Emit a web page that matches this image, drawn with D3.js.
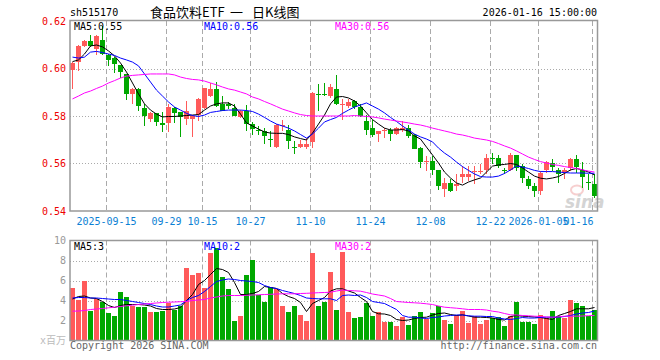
<!DOCTYPE html>
<html>
<head>
<meta charset="utf-8">
<script src="https://cdn.jsdelivr.net/npm/d3@7"></script>
<style>
  body { margin: 0; background: #fff; }
  svg { display: block; }
  text { font-family: "DejaVu Sans Mono", monospace; font-size: 10px; }
</style>
</head>
<body>
<div id="chart"></div>
<script>
const width = 660;
const height = 360;

// trading days shown
const dates = [
  "2025-09-05","2025-09-08","2025-09-09","2025-09-10","2025-09-11","2025-09-12",
  "2025-09-15","2025-09-16","2025-09-17","2025-09-18","2025-09-19",
  "2025-09-22","2025-09-23","2025-09-24","2025-09-25","2025-09-26",
  "2025-09-29","2025-09-30","2025-10-09","2025-10-10",
  "2025-10-13","2025-10-14","2025-10-15","2025-10-16","2025-10-17",
  "2025-10-20","2025-10-21","2025-10-22","2025-10-23","2025-10-24",
  "2025-10-27","2025-10-28","2025-10-29","2025-10-30","2025-10-31",
  "2025-11-03","2025-11-04","2025-11-05","2025-11-06","2025-11-07",
  "2025-11-10","2025-11-11","2025-11-12","2025-11-13","2025-11-14",
  "2025-11-17","2025-11-18","2025-11-19","2025-11-20","2025-11-21",
  "2025-11-24","2025-11-25","2025-11-26","2025-11-27","2025-11-28",
  "2025-12-01","2025-12-02","2025-12-03","2025-12-04","2025-12-05",
  "2025-12-08","2025-12-09","2025-12-10","2025-12-11","2025-12-12",
  "2025-12-15","2025-12-16","2025-12-17","2025-12-18","2025-12-19",
  "2025-12-22","2025-12-23","2025-12-24","2025-12-25","2025-12-26",
  "2025-12-29","2025-12-30","2025-12-31",
  "2026-01-05","2026-01-06","2026-01-07","2026-01-08","2026-01-09",
  "2026-01-12","2026-01-13","2026-01-14","2026-01-15","2026-01-16"
];

const opens = [
  .5993,.6028,.6093,.6114,.6084,.6121,.6056,.6045,.6014,.5975,
  .5891,.5914,.5833,.5787,.5812,.5771,.5770,.5833,.5815,.5787,
  .5787,.5805,.5833,.5886,.5914,.5852,.5850,.5833,.5796,.5822,
  .5766,.5742,.5735,.5703,.5671,.5758,.5741,.5671,.5671,.5671,
  .5691,.5892,.5893,.5886,.5914,.5845,.5842,.5863,.5836,.5781,
  .5750,.5724,.5735,.5742,.5724,.5742,.5749,.5721,.5666,.5607,
  .5612,.5571,.5491,.5519,.5505,.5543,.5543,.5565,.5565,.5571,
  .5624,.5624,.5571,.5571,.5635,.5589,.5533,.5505,.5484,.5571,
  .5603,.5571,.5561,.5579,.5621,.5571,.5522,.5515
];
const highs = [
  .6027,.6098,.6118,.6142,.6140,.6181,.6060,.6048,.6016,.5977,
  .5917,.5916,.5850,.5815,.5814,.5816,.5851,.5836,.5818,.5863,
  .5806,.5875,.5920,.5937,.5944,.5886,.5858,.5851,.5826,.5847,
  .5774,.5760,.5751,.5738,.5765,.5784,.5763,.5696,.5700,.5707,
  .5902,.5933,.5941,.5933,.5972,.5872,.5872,.5866,.5850,.5805,
  .5784,.5738,.5749,.5749,.5752,.5781,.5763,.5724,.5668,.5631,
  .5631,.5574,.5540,.5533,.5554,.5589,.5589,.5589,.5596,.5638,
  .5645,.5635,.5582,.5645,.5636,.5599,.5547,.5519,.5568,.5612,
  .5617,.5582,.5582,.5624,.5635,.5607,.5554,.5554
];
const lows = [
  .5912,.5990,.6090,.6090,.6056,.6055,.6011,.5983,.5958,.5868,
  .5850,.5819,.5760,.5773,.5760,.5732,.5732,.5769,.5710,.5763,
  .5710,.5777,.5830,.5880,.5840,.5820,.5830,.5798,.5790,.5738,
  .5721,.5721,.5682,.5671,.5665,.5735,.5660,.5640,.5665,.5662,
  .5665,.5822,.5886,.5875,.5847,.5784,.5833,.5830,.5794,.5721,
  .5710,.5691,.5707,.5696,.5721,.5732,.5707,.5660,.5579,.5568,
  .5551,.5487,.5459,.5481,.5484,.5519,.5526,.5512,.5554,.5554,
  .5596,.5582,.5554,.5568,.5568,.5519,.5491,.5459,.5467,.5561,
  .5568,.5519,.5533,.5568,.5561,.5498,.5487,.5453
];
const closes = [
  .6025,.6093,.6114,.6093,.6135,.6059,.6035,.6017,.5986,.5891,
  .5914,.5844,.5802,.5812,.5773,.5763,.5836,.5812,.5796,.5822,
  .5802,.5872,.5916,.5914,.5844,.5822,.5841,.5802,.5822,.5766,
  .5745,.5737,.5714,.5698,.5763,.5763,.5696,.5667,.5684,.5684,
  .5895,.5888,.5890,.5922,.5851,.5852,.5860,.5836,.5798,.5742,
  .5721,.5735,.5742,.5724,.5749,.5749,.5714,.5663,.5607,.5612,
  .5571,.5505,.5519,.5484,.5512,.5554,.5554,.5570,.5570,.5624,
  .5620,.5589,.5568,.5635,.5582,.5540,.5505,.5484,.5561,.5607,
  .5585,.5557,.5571,.5621,.5585,.5543,.5519,.5463
];

// volume, millions
const volumes = [
  5.23,4.1,5.93,3.0,4.17,3.83,2.73,2.43,4.9,4.33,
  3.5,3.33,3.33,2.9,2.83,2.95,3.77,3.1,3.5,7.23,
  6.6,6.77,5.23,8.73,9.23,6.33,5.2,2.0,2.43,6.6,
  8.1,4.57,3.83,5.4,5.17,3.5,2.9,3.43,2.6,1.93,
  8.73,3.43,3.9,6.9,3.1,8.9,2.9,2.3,2.4,3.73,
  2.5,2.9,1.9,1.9,1.5,2.4,1.6,2.5,2.9,2.2,
  2.8,3.47,2.1,1.7,2.6,3.0,1.8,2.5,1.7,2.1,
  2.23,2.4,1.5,2.5,3.9,1.9,1.9,1.7,2.6,2.3,
  3.0,2.5,2.3,4.1,3.8,3.5,2.43,3.1
];

// moving averages as drawn on the chart
const ma5 = [
  .6029,.6036,.6061,.6095,.6099,.6091,.6074,.6053,.6023,.5985,
  .5939,.5893,.5851,.5825,.5808,.5796,.5798,.5798,.5800,.5802,
  .5804,.5806,.5825,.5842,.5851,.5855,.5855,.5842,.5808,.5771,
  .5758,.5745,.5733,.5728,.5727,.5727,.5722,.5712,.5705,.5699,
  .5728,.5766,.5804,.5851,.5880,.5882,.5876,.5863,.5842,.5813,
  .5785,.5766,.5749,.5741,.5741,.5743,.5737,.5716,.5703,.5669,
  .5636,.5602,.5564,.5539,.5518,.5509,.5522,.5531,.5539,.5564,
  .5589,.5594,.5596,.5600,.5596,.5581,.5564,.5547,.5538,.5535,
  .5539,.5545,.5558,.5573,.5579,.5573,.5564,.5552
];
const ma10 = [
  .6048,.6044,.6048,.6069,.6072,.6067,.6061,.6055,.6044,.6036,
  .6027,.6011,.5977,.5943,.5909,.5884,.5859,.5838,.5825,.5811,
  .5802,.5798,.5804,.5815,.5819,.5823,.5825,.5825,.5825,.5823,
  .5819,.5808,.5794,.5779,.5766,.5758,.5749,.5737,.5722,.5707,
  .5724,.5749,.5775,.5785,.5794,.5811,.5825,.5838,.5846,.5855,
  .5842,.5829,.5813,.5794,.5777,.5758,.5741,.5724,.5712,.5703,
  .5691,.5665,.5644,.5627,.5606,.5587,.5571,.5556,.5545,.5543,
  .5543,.5547,.5558,.5573,.5589,.5585,.5579,.5571,.5566,.5566,
  .5566,.5564,.5562,.5560,.5560,.5560,.5559,.5559
];
const ma30 = [
  .5872,.5884,.5897,.5905,.5916,.5926,.5939,.5949,.5960,.5968,
  .5971,.5973,.5975,.5977,.5977,.5977,.5977,.5973,.5964,.5958,
  .5954,.5952,.5947,.5939,.5931,.5922,.5914,.5909,.5901,.5893,
  .5880,.5872,.5861,.5851,.5840,.5829,.5821,.5813,.5806,.5802,
  .5800,.5800,.5800,.5800,.5800,.5800,.5800,.5802,.5800,.5798,
  .5796,.5792,.5787,.5783,.5779,.5775,.5771,.5766,.5762,.5756,
  .5749,.5743,.5737,.5731,.5724,.5720,.5714,.5707,.5703,.5699,
  .5693,.5684,.5674,.5665,.5653,.5640,.5627,.5617,.5608,.5602,
  .5596,.5592,.5587,.5583,.5579,.5573,.5568,.5564
];
const volMa5 = [
  4.15,4.4,4.45,4.25,4.2,3.9,3.5,3.3,3.5,3.6,
  3.6,3.6,3.55,3.45,3.2,3.1,3.1,3.15,3.3,4.0,
  4.6,5.6,6.0,6.6,7.2,7.1,6.8,5.8,4.6,4.6,
  4.7,4.9,5.4,5.3,5.2,4.7,4.4,4.2,3.8,2.9,
  3.7,4.0,4.3,4.95,5.17,5.17,4.95,4.75,4.3,3.9,
  2.9,2.67,2.65,2.5,2.1,2.0,2.05,2.2,2.3,2.33,
  2.55,2.7,2.75,2.6,2.5,2.57,2.45,2.33,2.33,2.3,
  2.25,2.1,2.05,2.4,2.5,2.43,2.4,2.35,2.3,2.2,
  2.1,2.5,2.7,2.9,3.17,3.17,3.17,3.3
];
const volMa10 = [
  4.25,4.3,4.3,4.25,4.25,4.2,4.15,4.1,4.1,4.0,
  3.9,3.8,3.7,3.6,3.45,3.35,3.35,3.45,3.55,4.0,
  4.3,4.5,4.9,5.4,5.9,6.05,6.15,6.1,6.0,5.95,
  5.9,5.8,5.5,5.3,5.2,5.0,4.85,4.7,4.5,4.25,
  4.2,4.17,4.17,4.17,4.0,4.5,4.55,4.5,4.55,4.3,
  3.9,3.8,3.7,3.4,3.1,2.5,2.33,2.33,2.25,2.2,
  2.3,2.35,2.45,2.5,2.55,2.55,2.47,2.43,2.43,2.4,
  2.4,2.25,2.15,2.1,2.2,2.3,2.25,2.25,2.3,2.33,
  2.33,2.33,2.4,2.5,2.65,2.75,2.8,2.95
];
const volMa30 = [
  2.93,2.95,3.0,3.1,3.15,3.2,3.27,3.33,3.4,3.47,
  3.53,3.6,3.65,3.7,3.75,3.8,3.83,3.85,3.88,3.9,
  4.0,4.05,4.1,4.25,4.35,4.45,4.5,4.5,4.5,4.52,
  4.55,4.57,4.6,4.62,4.65,4.67,4.67,4.67,4.7,4.72,
  4.75,4.78,4.8,4.83,4.95,5.05,5.0,4.97,4.93,4.8,
  4.65,4.55,4.45,4.2,3.9,3.85,3.8,3.77,3.73,3.67,
  3.6,3.45,3.33,3.28,3.23,3.17,3.1,3.1,3.1,3.05,
  2.93,2.85,2.7,2.57,2.55,2.5,2.47,2.43,2.4,2.35,
  2.33,2.37,2.43,2.43,2.43,2.45,2.48,2.5
];

const tickDates = ["2025-09-15","2025-09-29","2025-10-15","2025-10-27","2025-11-10",
  "2025-11-24","2025-12-08","2025-12-22","2026-01-05","2026-01-16"];
const tickLabels = ["2025-09-15","09-29","10-15","10-27","11-10",
  "11-24","12-08","12-22","2026-01-05","01-16"];
const priceTicks = [0.54, 0.56, 0.58, 0.60, 0.62];
const volTicks = [2, 4, 6, 8, 10];

const UP = "#ff5a5a";
const DOWN = "#00a800";
const GRID = "#aaaaaa";

const plot = { left: 70, right: 597.5, top: 21, bottom: 211 };
const vplot = { top: 240.5, bottom: 340.5 };

const x = d3.scaleBand().domain(dates).range([69.5, 597.5]);
const xc = d => x(d) + x.bandwidth() / 2;
const y = d3.scaleLinear().domain([0.54, 0.62]).range([plot.bottom, plot.top]);
const yv = d3.scaleLinear().domain([0, 10]).range([vplot.bottom, vplot.top]);

const candles = dates.map((d, i) => ({
  date: d, o: opens[i], h: highs[i], l: lows[i], c: closes[i], v: volumes[i],
  up: closes[i] >= opens[i]
}));

const svg = d3.select("#chart").append("svg")
  .attr("width", width)
  .attr("height", height);

const defs = svg.append("defs");
defs.append("clipPath").attr("id", "clipTop")
  .append("rect").attr("x", plot.left).attr("y", plot.top)
  .attr("width", plot.right - plot.left).attr("height", plot.bottom - plot.top);
defs.append("clipPath").attr("id", "clipVol")
  .append("rect").attr("x", plot.left).attr("y", vplot.top)
  .attr("width", plot.right - plot.left).attr("height", vplot.bottom - vplot.top);

// header
svg.append("text").attr("x", 70).attr("y", 16).text("sh515170");
const titleParts = [["食品饮料ETF", 150], ["一", 230], ["日K线图", 252]];
svg.append("g").selectAll("text")
  .data(titleParts)
  .enter().append("text")
  .attr("x", d => d[1]).attr("y", 17)
  .style("font-family", "'Noto Sans CJK SC', sans-serif").style("font-size", "13px")
  .text(d => d[0]);
svg.append("text").attr("x", 597).attr("y", 16).attr("text-anchor", "end")
  .text("2026-01-16 15:00:00");

// sina watermark (behind the candles)
const wm = svg.append("g").attr("opacity", 0.5);
wm.append("ellipse").attr("cx", 577).attr("cy", 190).attr("rx", 6).attr("ry", 4.5)
  .attr("fill", "none").attr("stroke", "#f0a0a0").attr("stroke-width", 2);
wm.append("text").attr("x", 565).attr("y", 208)
  .style("font-family", "'DejaVu Sans', sans-serif").style("font-size", "17px")
  .style("font-style", "italic").style("font-weight", "bold")
  .attr("fill", "#aaa").text("sina");

// horizontal dotted grid
svg.append("g").selectAll("line")
  .data(priceTicks.slice(1, -1))
  .enter().append("line")
  .attr("x1", plot.left).attr("x2", plot.right)
  .attr("y1", d => Math.round(y(d)) + 0.5).attr("y2", d => Math.round(y(d)) + 0.5)
  .attr("stroke", GRID).attr("stroke-dasharray", "1,2");

svg.append("g").selectAll("line")
  .data(volTicks.slice(0, -1))
  .enter().append("line")
  .attr("x1", plot.left).attr("x2", plot.right)
  .attr("y1", d => Math.round(yv(d)) + 0.5).attr("y2", d => Math.round(yv(d)) + 0.5)
  .attr("stroke", GRID).attr("stroke-dasharray", "1,2");

// vertical dashed grid, both panels
const vgrid = svg.append("g");
[[plot.top, plot.bottom], [vplot.top, vplot.bottom]].forEach(([t, b]) => {
  vgrid.append("g").selectAll("line")
    .data(tickDates)
    .enter().append("line")
    .attr("x1", d => xc(d) - 2).attr("x2", d => xc(d) - 2)
    .attr("y1", t).attr("y2", b)
    .attr("stroke", GRID).attr("stroke-dasharray", "5,3");
});

// price axis labels
const yAxis = svg.append("g")
  .attr("transform", `translate(${plot.left},0)`)
  .call(d3.axisLeft(y).tickValues(priceTicks).tickFormat(d3.format(".2f")).tickSize(0).tickPadding(4));
yAxis.select(".domain").remove();
yAxis.selectAll("text").attr("fill", "#ee0000")
  .style("font-family", "'DejaVu Sans Mono', monospace").style("font-size", "10px");

// volume axis labels
const vAxis = svg.append("g")
  .attr("transform", `translate(${plot.left},0)`)
  .call(d3.axisLeft(yv).tickValues(volTicks).tickSize(0).tickPadding(4));
vAxis.select(".domain").remove();
vAxis.selectAll("text").attr("fill", "#999")
  .style("font-family", "'DejaVu Sans Mono', monospace").style("font-size", "10px");
svg.append("text").attr("x", 66).attr("y", 344).attr("text-anchor", "end")
  .attr("fill", "#bbb")
  .style("font-family", "'DejaVu Sans Mono', 'Noto Sans CJK SC', monospace")
  .text("x百万");

// date labels
const xAxis = svg.append("g")
  .attr("transform", `translate(-2,${plot.bottom})`)
  .call(d3.axisBottom(x).tickValues(tickDates)
    .tickFormat(d => tickLabels[tickDates.indexOf(d)])
    .tickSize(0).tickPadding(7));
xAxis.select(".domain").remove();
xAxis.selectAll("text").attr("fill", "#0b7fd4")
  .style("font-family", "'DejaVu Sans Mono', monospace").style("font-size", "10px");
xAxis.selectAll("text").filter(d => d === tickDates[tickDates.length - 1])
  .attr("text-anchor", "end").attr("x", 1);

// candles
const candleG = svg.append("g").attr("clip-path", "url(#clipTop)")
  .style("shape-rendering", "crispEdges");

candleG.selectAll(".wick")
  .data(candles)
  .enter().append("line")
  .attr("class", "wick")
  .attr("x1", d => xc(d.date)).attr("x2", d => xc(d.date))
  .attr("y1", d => y(d.h)).attr("y2", d => y(d.l))
  .attr("stroke", d => d.up ? UP : DOWN);

candleG.selectAll(".body")
  .data(candles)
  .enter().append("rect")
  .attr("class", "body")
  .attr("x", d => xc(d.date) - 2.5)
  .attr("width", 5)
  .attr("y", d => y(Math.max(d.o, d.c)))
  .attr("height", d => Math.max(1, Math.abs(y(d.o) - y(d.c))))
  .attr("fill", d => d.up ? UP : DOWN);

// MA lines
const maG = svg.append("g").attr("clip-path", "url(#clipTop)");
[[ma5, "#000"], [ma10, "#0000ff"], [ma30, "#ff00ff"]].forEach(([vals, col]) => {
  maG.append("path")
    .datum(vals)
    .attr("d", d3.line().x((v, i) => xc(dates[i])).y(v => y(v)))
    .attr("fill", "none").attr("stroke", col).attr("stroke-width", 1);
});

// volume bars
const volG = svg.append("g").attr("clip-path", "url(#clipVol)")
  .style("shape-rendering", "crispEdges");
volG.selectAll("rect")
  .data(candles)
  .enter().append("rect")
  .attr("x", d => xc(d.date) - 2.5)
  .attr("width", 5)
  .attr("y", d => yv(d.v))
  .attr("height", d => vplot.bottom - yv(d.v))
  .attr("fill", d => d.up ? UP : DOWN);

const volMaG = svg.append("g").attr("clip-path", "url(#clipVol)");
[[volMa5, "#000"], [volMa10, "#0000ff"], [volMa30, "#ff00ff"]].forEach(([vals, col]) => {
  volMaG.append("path")
    .datum(vals)
    .attr("d", d3.line().x((v, i) => xc(dates[i])).y(v => yv(v)))
    .attr("fill", "none").attr("stroke", col).attr("stroke-width", 1);
});

// panel borders
svg.append("rect").attr("x", plot.left).attr("y", plot.top - 0.5)
  .attr("width", plot.right - plot.left).attr("height", plot.bottom - plot.top + 0.5)
  .attr("fill", "none").attr("stroke", "#999").attr("stroke-width", 1.5);
svg.append("rect").attr("x", plot.left).attr("y", vplot.top)
  .attr("width", plot.right - plot.left).attr("height", vplot.bottom - vplot.top)
  .attr("fill", "none").attr("stroke", "#999").attr("stroke-width", 1.5);

// legends
const legend = [
  ["MA5:0.55", 74, 30, "#000"], ["MA10:0.56", 204, 30, "#0000ff"], ["MA30:0.56", 335, 30, "#ff00ff"],
  ["MA5:3", 74, 250, "#000"], ["MA10:2", 204, 250, "#0000ff"], ["MA30:2", 335, 250, "#ff00ff"]
];
svg.append("g").selectAll("text")
  .data(legend)
  .enter().append("text")
  .attr("x", d => d[1]).attr("y", d => d[2])
  .attr("fill", d => d[3])
  .text(d => d[0]);

// footer
svg.append("text").attr("x", 70).attr("y", 349).attr("fill", "#666")
  .text("Copyright 2026 SINA.COM");
svg.append("text").attr("x", 597).attr("y", 349).attr("text-anchor", "end").attr("fill", "#666")
  .text("http://finance.sina.com.cn");
</script>
</body>
</html>
